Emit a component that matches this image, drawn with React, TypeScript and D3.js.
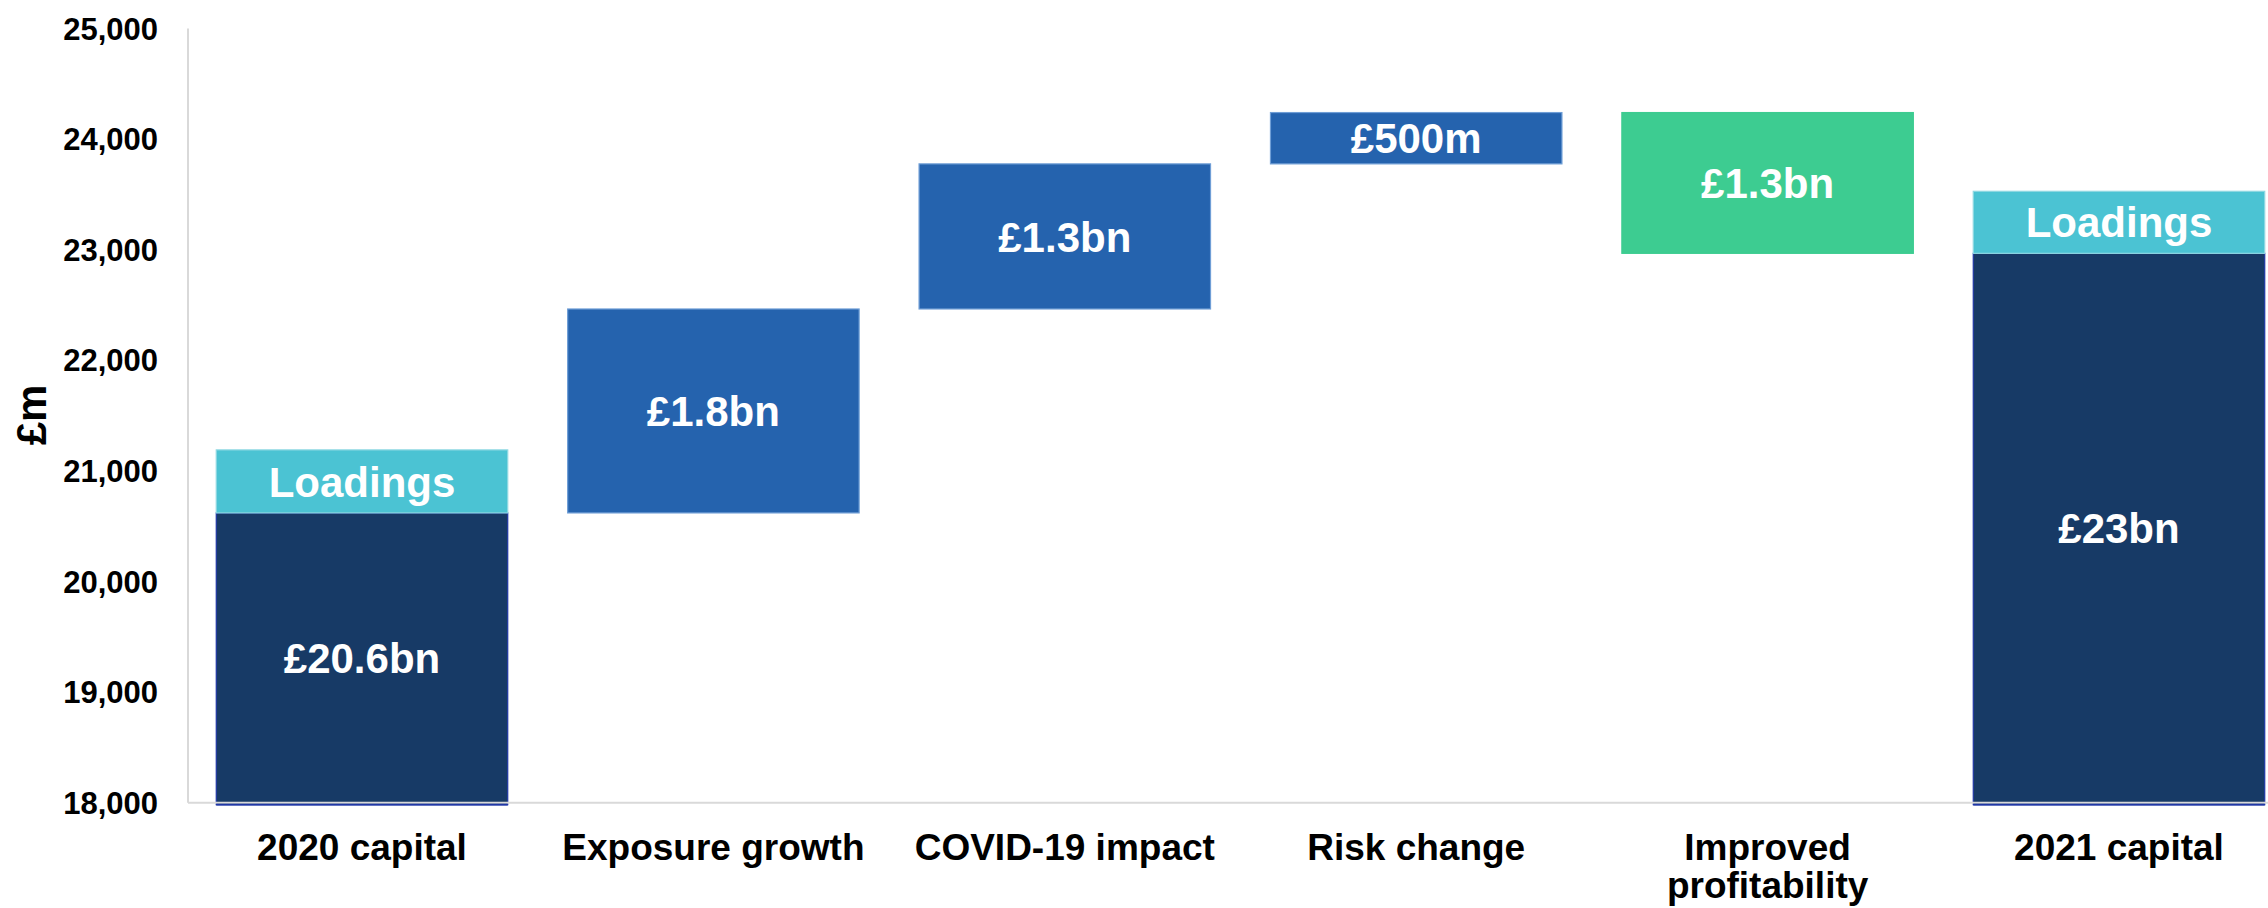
import React from "react";
import * as d3 from "d3";

// ---- data ----
const categories = [
  "2020 capital",
  "Exposure growth",
  "COVID-19 impact",
  "Risk change",
  "Improved profitability",
  "2021 capital",
];
const capitalValues = [20620, 22967]; // 2020 capital, 2021 capital (£m)
const loadingValues = [570, 561]; // loadings stacked on each capital bar (£m)
const changeValues = [1844, 1312, 464, -1273]; // waterfall steps (£m)
const barLabels = ["£20.6bn", "£1.8bn", "£1.3bn", "£500m", "£1.3bn", "£23bn"];
const yTicks = [18000, 19000, 20000, 21000, 22000, 23000, 24000, 25000];
const yDomain = [18000, 25000];

const W = 2268;
const H = 908;
const FONT = "'Liberation Sans', Arial, Helvetica, sans-serif";
const C_DARK = "#173A66";
const C_DARK_EDGE = "#1F36A6";
const C_LOAD = "#4BC3D3";
const C_LOAD_EDGE = "#8ED8E2";
const C_UP = "#2563AE";
const C_UP_EDGE = "#6F9ED6";
const C_DOWN = "#3DCC91";
const C_AXIS = "#D9D9D9";

export default function App() {
  const x = d3
    .scaleBand<string>()
    .domain(categories)
    .range([188, 2293])
    .paddingInner(0.1677)
    .paddingOuter(0.079);
  const y = d3.scaleLinear().domain(yDomain).range([802.7, 28.5]);
  const bw = x.bandwidth();

  type Seg = { cat: string; lo: number; hi: number; fill: string; stroke: string; label: string };
  const segs: Seg[] = [];

  const first = categories[0];
  const last = categories[categories.length - 1];

  segs.push({ cat: first, lo: yDomain[0], hi: capitalValues[0], fill: C_DARK, stroke: C_DARK_EDGE, label: barLabels[0] });
  segs.push({ cat: first, lo: capitalValues[0], hi: capitalValues[0] + loadingValues[0], fill: C_LOAD, stroke: C_LOAD_EDGE, label: "Loadings" });

  let running = capitalValues[0];
  changeValues.forEach((d, i) => {
    const start = running;
    const end = running + d;
    running = end;
    segs.push({
      cat: categories[i + 1],
      lo: Math.min(start, end),
      hi: Math.max(start, end),
      fill: d >= 0 ? C_UP : C_DOWN,
      stroke: d >= 0 ? C_UP_EDGE : C_DOWN,
      label: barLabels[i + 1],
    });
  });

  segs.push({ cat: last, lo: yDomain[0], hi: capitalValues[1], fill: C_DARK, stroke: C_DARK_EDGE, label: barLabels[5] });
  segs.push({ cat: last, lo: capitalValues[1], hi: capitalValues[1] + loadingValues[1], fill: C_LOAD, stroke: C_LOAD_EDGE, label: "Loadings" });

  const [yMin, yMax] = yDomain;

  return (
    <svg
      width={W}
      height={H}
      style={{ position: "absolute", left: 0, top: 0, background: "#fff" }}
      fontFamily={FONT}
      fontWeight="bold"
    >
      <line x1={188} x2={188} y1={y(yMax)} y2={y(yMin)} stroke={C_AXIS} strokeWidth={2} />

      {segs.map((s, i) => {
        const top = y(s.hi);
        const bottom = s.lo === yMin ? y(s.lo) + 2 : y(s.lo);
        return (
          <rect
            key={"r" + i}
            x={(x(s.cat) as number) + 0.5}
            y={top}
            width={bw - 1}
            height={bottom - top}
            fill={s.fill}
            stroke={s.stroke}
            strokeWidth={1.2}
          />
        );
      })}
      <line x1={188} x2={W} y1={y(yMin)} y2={y(yMin)} stroke={C_AXIS} strokeWidth={2} />
      {segs
        .filter((s) => s.lo === yMin)
        .map((s, i) => (
          <rect
            key={"b" + i}
            x={(x(s.cat) as number) + 0.5}
            y={y(yMin) + 1}
            width={bw - 1}
            height={2}
            fill={C_DARK_EDGE}
            opacity={0.8}
          />
        ))}

      {segs.map((s, i) => (
        <text
          key={"t" + i}
          x={(x(s.cat) as number) + bw / 2}
          y={(y(s.hi) + y(s.lo)) / 2}
          dy="0.36em"
          textAnchor="middle"
          fill="#fff"
          fontSize={42}
        >
          {s.label}
        </text>
      ))}

      {yTicks.map((t) => (
        <text key={"y" + t} x={158} y={y(t)} dy="0.36em" textAnchor="end" fontSize={31} fill="#000">
          {d3.format(",")(t)}
        </text>
      ))}

      <text transform={`translate(46,415) rotate(-90)`} textAnchor="middle" fontSize={42} fill="#000">
        £m
      </text>

      {categories.map((c) => {
        const cx = (x(c) as number) + bw / 2;
        const words = c === "Improved profitability" ? ["Improved", "profitability"] : [c];
        return (
          <text key={"x" + c} x={cx} y={860} textAnchor="middle" fontSize={37} fill="#000">
            {words.map((w, j) => (
              <tspan key={j} x={cx} dy={j === 0 ? 0 : 38}>
                {w}
              </tspan>
            ))}
          </text>
        );
      })}
    </svg>
  );
}
